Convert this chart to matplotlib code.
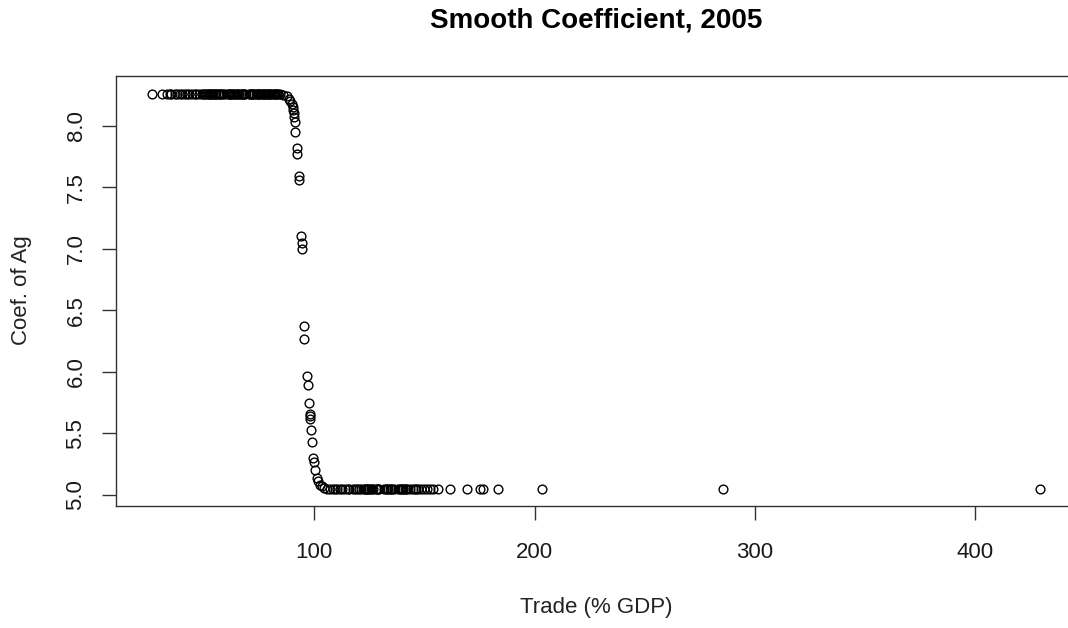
import matplotlib
matplotlib.use("Agg")
import matplotlib.pyplot as plt

plt.rcParams['font.family'] = ['Liberation Sans', 'DejaVu Sans']

# Trade (% GDP) for countries on the upper plateau (coef ~ 8.26)
trade_top = [26.5, 30.9, 33.2, 34.5, 35.1, 36.8, 37.6, 38.9, 40.2, 41.5, 42.3,
             43.1, 44.6, 45.9, 46.4, 47.8, 49.0, 49.7, 50.5, 51.1, 51.6, 52.3,
             52.8, 53.1, 53.6, 54.0, 54.8, 55.1, 55.5, 56.3, 56.8, 57.2, 57.9,
             58.6, 59.1, 60.5, 61.3, 61.7, 62.0, 62.8, 63.2, 63.7, 64.5, 65.1,
             65.5, 65.9, 66.8, 67.2, 67.5, 68.3, 68.8, 70.4, 70.9, 71.2, 72.0,
             72.4, 72.7, 73.5, 73.9, 74.3, 75.0, 75.4, 75.8, 76.6, 77.0, 77.3,
             78.1, 78.5, 78.9, 79.6, 80.0, 80.4, 81.2, 81.6, 82.0, 82.8, 83.2,
             83.5]
coef_top = [8.26] * len(trade_top)

# Transition region
trade_mid = [84.5, 86.0, 87.5, 88.5, 89.0, 89.8, 90.2, 90.5, 91.0, 90.8, 91.2,
             91.5, 92.1, 92.2, 92.9, 93.1, 94.0, 94.3, 94.5, 95.4, 95.5, 96.6,
             97.1, 97.6, 97.9, 98.0, 98.1, 98.4, 98.9, 99.6, 99.8, 100.4, 101.1,
             101.6, 102.6, 103.5, 104.5, 106.0, 107.0]
coef_mid = [8.26, 8.25, 8.24, 8.22, 8.20, 8.18, 8.15, 8.13, 8.10, 8.07, 8.03,
            7.95, 7.82, 7.77, 7.59, 7.56, 7.10, 7.05, 7.00, 6.37, 6.27, 5.97,
            5.89, 5.75, 5.66, 5.64, 5.62, 5.53, 5.43, 5.30, 5.27, 5.20, 5.14,
            5.11, 5.08, 5.07, 5.06, 5.05, 5.05]

# Lower plateau (coef ~ 5.05)
trade_bot = [108.6, 109.4, 110.3, 111.5, 112.8, 113.9, 115.2, 116.0, 117.4,
             118.3, 119.6, 120.4, 121.3, 122.5, 122.9, 123.4, 124.1, 124.6,
             125.0, 125.8, 126.3, 126.7, 127.9, 128.6, 129.1, 129.5, 131.8,
             132.6, 133.0, 133.4, 134.3, 134.8, 135.2, 136.1, 138.0, 138.8,
             139.3, 139.7, 140.5, 141.0, 141.6, 142.3, 143.4, 144.6, 145.5,
             146.2, 147.3, 148.5, 149.8, 151.0, 152.4, 153.7, 156.3,
             161.6, 169.2, 175.2, 176.7, 183.5, 203.2, 285.5, 429.4]
coef_bot = [5.05] * len(trade_bot)

x_ticks = [100, 200, 300, 400]
y_ticks = [5.0, 5.5, 6.0, 6.5, 7.0, 7.5, 8.0]

trade = trade_top + trade_mid + trade_bot
coef = coef_top + coef_mid + coef_bot

W, H = 1068, 628
fig = plt.figure(figsize=(W / 100, H / 100), dpi=100)
left, right, top, bottom = 115.7, 1076.0, 76.3, 505.7
ax = fig.add_axes([left / W, 1 - bottom / H, (right - left) / W, (bottom - top) / H])

ax.plot(trade, coef, linestyle='none', marker='o', markersize=6.3,
        markerfacecolor='none', markeredgecolor='black', markeredgewidth=1.0)

ax.set_xlim(9.94, 445.6)
ax.set_ylim(4.913, 8.401)
ax.set_xticks(x_ticks)
ax.set_xticklabels([str(v) for v in x_ticks])
ax.set_yticks(y_ticks)
ax.set_yticklabels([f"{v:.1f}" for v in y_ticks], rotation=90, va='center')

for s in ax.spines.values():
    s.set_linewidth(1.0)
    s.set_color('#333333')

ax.tick_params(axis='both', direction='out', length=10, width=1.0,
               color='#333333', labelsize=16, labelcolor='#1a1a1a')
ax.tick_params(axis='x', pad=16)
ax.tick_params(axis='y', pad=11)

ax.set_xlabel('Trade (% GDP)', fontsize=16, color='#222222', va='center')
ax.xaxis.set_label_coords(0.5, (bottom - 607) / (bottom - top))
ax.set_ylabel('Coef. of Ag', fontsize=16, color='#222222', va='center')
ax.yaxis.set_label_coords((22 - left) / (right - left), (bottom - 290) / (bottom - top))

fig.text(596.5 / W, 1 - 20 / H, 'Smooth Coefficient, 2005', ha='center',
         va='center', fontsize=20, fontweight='bold', color='black')

fig.savefig('out.png', dpi=100)
